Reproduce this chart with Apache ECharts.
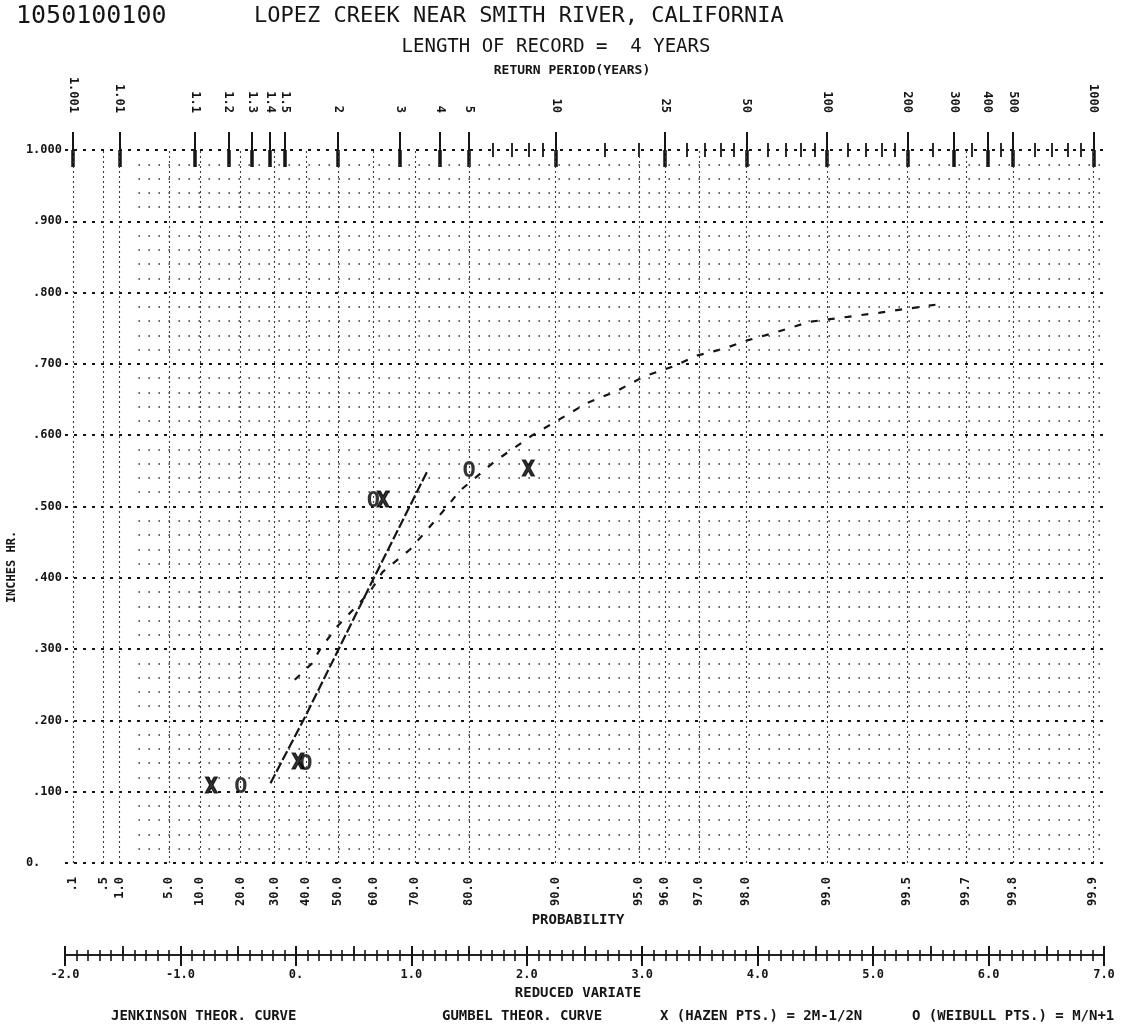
<!DOCTYPE html>
<html>
<head>
<meta charset="utf-8">
<script src="https://cdn.jsdelivr.net/npm/echarts@6/dist/echarts.min.js"></script>
<style>
  html, body { margin: 0; padding: 0; background: #fff; }
  #chart { width: 1123px; height: 1028px; }
</style>
</head>
<body>
<div id="chart"></div>
<script>
// probability grid (percent non-exceedance) and its labels
let probTicks = [0.1, 0.5, 1, 5, 10, 20, 30, 40, 50, 60, 70, 80, 90, 95, 96, 97, 98, 99, 99.5, 99.7, 99.8, 99.9];
let probLabels = ['.1', '.5', '1.0', '5.0', '10.0', '20.0', '30.0', '40.0', '50.0', '60.0', '70.0', '80.0',
  '90.0', '95.0', '96.0', '97.0', '98.0', '99.0', '99.5', '99.7', '99.8', '99.9'];
// return period scale on top
let returnYears = [1.001, 1.01, 1.1, 1.2, 1.3, 1.4, 1.5, 2, 3, 4, 5, 10, 25, 50, 100, 200, 300, 400, 500, 1000];
let returnLabels = ['1.001', '1.01', '1.1', '1.2', '1.3', '1.4', '1.5', '2', '3', '4', '5', '10', '25', '50',
  '100', '200', '300', '400', '500', '1000'];
let returnMinor = [6, 7, 8, 9, 15, 20, 30, 35, 40, 45, 60, 70, 80, 90, 120, 140, 160, 180, 250, 350, 450,
  600, 700, 800, 900];
let yTicks = [0, 0.1, 0.2, 0.3, 0.4, 0.5, 0.6, 0.7, 0.8, 0.9, 1.0];
let yLabels = ['0.   ', '.100', '.200', '.300', '.400', '.500', '.600', '.700', '.800', '.900', '1.000'];
let rvTicks = [-2, -1, 0, 1, 2, 3, 4, 5, 6, 7];
let rvLabels = ['-2.0', '-1.0', '0.', '1.0', '2.0', '3.0', '4.0', '5.0', '6.0', '7.0'];

// 4 years of record, annual maxima (inches/hr)
let annualMax = [0.106, 0.139, 0.507, 0.550];
let hazenProb = [12.5, 37.5, 62.5, 87.5];
let weibullProb = [20, 40, 60, 80];

// theoretical curves (reduced variate, value)
let gumbelRV = [-0.22, 0.08, 0.67, 1.14];
let gumbelQ = [0.112, 0.205, 0.398, 0.550];
let jenkRV = [-0.01, 0.14, 0.21, 0.36, 0.64, 0.75, 0.99, 1.12, 1.31, 1.42, 1.72, 2.05, 2.26, 2.52, 2.78,
  3.01, 3.26, 3.48, 3.70, 3.91, 4.13, 4.45, 4.78, 5.06, 5.54];
let jenkQ = [0.257, 0.280, 0.300, 0.332, 0.380, 0.408, 0.440, 0.464, 0.500, 0.522, 0.563, 0.600, 0.620,
  0.645, 0.662, 0.682, 0.696, 0.712, 0.721, 0.733, 0.743, 0.759, 0.766, 0.772, 0.783];

let ink = '#151515';
let mono = 'DejaVu Sans Mono';

function reducedVariate(pct) {
  return -Math.log(-Math.log(pct / 100));
}

function periodVariate(t) {
  return reducedVariate(100 * (1 - 1 / t));
}

function lookup(values, labels) {
  let m = {};
  for (let i = 0; i < values.length; i++) {
    m[values[i].toFixed(4)] = labels[i];
  }
  return function(v) {
    let s = m[Number(v).toFixed(4)];
    return s === undefined ? '' : s;
  };
}

function pairs(xs, ys) {
  let out = [];
  for (let i = 0; i < xs.length; i++) out.push([xs[i], ys[i]]);
  return out;
}

let probValues = probTicks.map(reducedVariate);
let returnValues = returnYears.map(periodVariate);
let minorValues = returnMinor.map(periodVariate);
let labelFont = { fontFamily: mono, fontWeight: 'bold', fontSize: 12, color: ink };
let noLine = { show: false };

// the fine dotted rows (every .02) only start near the 2 percent column
let rowStart = reducedVariate(2);
let minorRows = [];
for (let k = 1; k < 50; k++) {
  if (k % 5 == 0) continue;
  minorRows.push([{ coord: [rowStart, k * 0.02] }, { coord: [7, k * 0.02] }]);
}

function textEl(text, x, y, size, weight, align) {
  return {
    type: 'text', x: x, y: y, silent: true,
    style: {
      text: text, fill: ink, font: weight + ' ' + size + 'px "' + mono + '"',
      align: align || 'center', verticalAlign: 'middle'
    }
  };
}

// a bare top axis on the plot that only draws tick marks
function tickAxis(values, offset, length, width) {
  return {
    gridIndex: 0, type: 'value', min: -2, max: 7, position: 'top', offset: offset,
    axisLine: noLine, splitLine: noLine, axisLabel: noLine,
    axisTick: { show: true, customValues: values, length: length, lineStyle: { color: ink, width: width } }
  };
}

function pointLabel(ch, size, border) {
  return {
    show: true, position: 'inside', formatter: ch,
    fontFamily: mono, fontWeight: 'bold', fontSize: size,
    color: '#000', textBorderColor: '#000', textBorderWidth: border
  };
}

let chart = echarts.init(document.getElementById('chart'), null, { renderer: 'canvas' });

let option = {
  animation: false,
  backgroundColor: '#fff',
  grid: [
    { left: 65, right: 19, top: 150, height: 713 },
    { left: 65, right: 19, top: 954, height: 1 }
  ],
  xAxis: [{
      // probability labels under the plot
      gridIndex: 0, type: 'value', min: -2, max: 7, position: 'bottom',
      axisLine: noLine, axisTick: noLine, splitLine: noLine,
      axisLabel: Object.assign({
        customValues: probValues, formatter: lookup(probValues, probLabels),
        rotate: 90, margin: 14
      }, labelFont)
    },
    {
      // return period bars (upper, thin) + labels
      gridIndex: 0, type: 'value', min: -2, max: 7, position: 'top',
      axisLine: noLine, splitLine: noLine,
      axisTick: { show: true, customValues: returnValues, length: 18, lineStyle: { color: ink, width: 2 } },
      axisLabel: Object.assign({
        customValues: returnValues, formatter: lookup(returnValues, returnLabels),
        rotate: 90, margin: 37
      }, labelFont)
    },
    // lower, heavy part of the return period bars
    tickAxis(returnValues, -17, 17, 3.5),
    // minor return period marks, centred on the top row
    tickAxis(minorValues, -7, 14, 1.8),
    {
      // reduced variate scale, upper ticks
      gridIndex: 1, type: 'value', min: -2, max: 7, interval: 1, position: 'top',
      axisLine: { show: true, lineStyle: { color: ink, width: 1.6 } },
      axisTick: { show: true, length: 9, lineStyle: { color: ink, width: 2 } },
      minorTick: { show: true, splitNumber: 10, length: 5, lineStyle: { color: ink, width: 1.6 } },
      axisLabel: noLine, splitLine: noLine
    },
    {
      // reduced variate scale, lower ticks + labels
      gridIndex: 1, type: 'value', min: -2, max: 7, interval: 1, position: 'bottom',
      axisLine: { show: true, lineStyle: { color: ink, width: 1.6 } },
      axisTick: { show: true, length: 11, lineStyle: { color: ink, width: 2 } },
      minorTick: { show: true, splitNumber: 10, length: 6, lineStyle: { color: ink, width: 1.6 } },
      axisLabel: Object.assign({ margin: 14, formatter: lookup(rvTicks, rvLabels) }, labelFont),
      splitLine: noLine
    },
    {
      // half-unit marks
      gridIndex: 1, type: 'value', min: -2, max: 7, interval: 0.5, position: 'top', offset: 0,
      axisLine: noLine, axisLabel: noLine, splitLine: noLine,
      axisTick: { show: true, length: 8, lineStyle: { color: ink, width: 1.8 } }
    }
  ],
  yAxis: [{
      gridIndex: 0, type: 'value', min: 0, max: 1, interval: 0.1,
      axisLine: noLine, axisTick: noLine,
      axisLabel: Object.assign({ margin: 3, formatter: lookup(yTicks, yLabels) }, labelFont),
      splitLine: { show: true, lineStyle: { color: ink, width: 2, type: [3, 6] } }
    },
    {
      gridIndex: 1, type: 'value', min: 0, max: 1, show: false
    }
  ],
  series: [{
      name: 'GUMBEL THEOR. CURVE',
      type: 'line', xAxisIndex: 0, yAxisIndex: 0,
      data: pairs(gumbelRV, gumbelQ),
      showSymbol: false, symbol: 'none',
      lineStyle: { color: ink, width: 2.2, type: [10, 3] },
      // probability grid columns
      markLine: {
        silent: true, symbol: ['none', 'none'], label: { show: false },
        lineStyle: { color: '#3a3a3a', width: 1.1, type: [2, 3] },
        emphasis: { disabled: true },
        data: probValues.map(function(v) { return { xAxis: v }; })
      },
      z: 3
    },
    {
      name: 'JENKINSON THEOR. CURVE',
      type: 'line', xAxisIndex: 0, yAxisIndex: 0,
      data: pairs(jenkRV, jenkQ),
      showSymbol: false, symbol: 'none',
      lineStyle: { color: ink, width: 2.2, type: [7, 10] },
      // fine dotted rows
      markLine: {
        silent: true, symbol: ['none', 'none'], label: { show: false },
        lineStyle: { color: '#3a3a3a', width: 1.5, type: [1.6, 8.4] },
        emphasis: { disabled: true },
        data: minorRows
      },
      z: 3
    },
    {
      name: 'WEIBULL',
      type: 'scatter', xAxisIndex: 0, yAxisIndex: 0,
      data: pairs(weibullProb.map(reducedVariate), annualMax),
      symbolSize: 1, itemStyle: { color: 'rgba(0,0,0,0)' },
      label: pointLabel('O', 22, 0),
      z: 4
    },
    {
      name: 'HAZEN',
      type: 'scatter', xAxisIndex: 0, yAxisIndex: 0,
      data: pairs(hazenProb.map(reducedVariate), annualMax),
      symbolSize: 1, itemStyle: { color: 'rgba(0,0,0,0)' },
      label: pointLabel('X', 21, 1.2),
      z: 5
    }
  ],
  graphic: [
    textEl('1050100100', 16, 16, 25, 'normal', 'left'),
    textEl('LOPEZ CREEK NEAR SMITH RIVER, CALIFORNIA', 254, 16, 22, 'normal', 'left'),
    textEl('LENGTH OF RECORD =  4 YEARS', 556, 47, 19, 'normal'),
    textEl('RETURN PERIOD(YEARS)', 572, 71, 13, 'bold'),
    textEl('PROBABILITY', 578, 920, 14, 'bold'),
    textEl('REDUCED VARIATE', 578, 993, 14, 'bold'),
    textEl('JENKINSON THEOR. CURVE', 111, 1016, 14, 'bold', 'left'),
    textEl('GUMBEL THEOR. CURVE', 442, 1016, 14, 'bold', 'left'),
    textEl('X (HAZEN PTS.) = 2M-1/2N', 660, 1016, 14, 'bold', 'left'),
    textEl('O (WEIBULL PTS.) = M/N+1', 912, 1016, 14, 'bold', 'left'),
    {
      type: 'text', x: 12, y: 567, rotation: Math.PI / 2, silent: true,
      style: { text: 'INCHES HR.', fill: ink, font: 'bold 12px "' + mono + '"', align: 'center', verticalAlign: 'middle' }
    }
  ]
};

chart.setOption(option);
</script>
</body>
</html>
